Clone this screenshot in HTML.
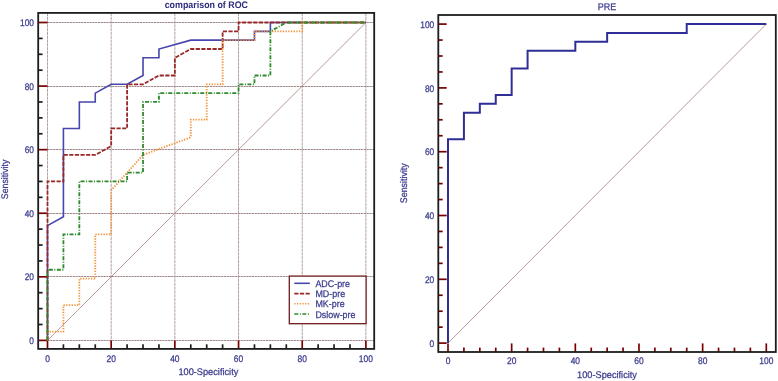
<!DOCTYPE html>
<html><head><meta charset="utf-8"><style>
html,body{margin:0;padding:0;background:#fff;}
body{width:778px;height:381px;overflow:hidden;}
svg{display:block;will-change:transform;}
.t{font-family:"Liberation Sans",sans-serif;font-size:9.6px;text-rendering:geometricPrecision;fill:#3a3a8e;stroke:#3a3a8e;stroke-width:0.25px;}
.tl{font-family:"Liberation Sans",sans-serif;font-size:9.2px;fill:#3a3a8e;}
.tb{font-family:"Liberation Sans",sans-serif;font-size:9.6px;text-rendering:geometricPrecision;font-weight:bold;fill:#2b2b7c;}
</style></head><body>
<svg width="778" height="381" viewBox="0 0 778 381">
<rect width="778" height="381" fill="#fff"/>
<line x1="47.50" y1="12.90" x2="47.50" y2="340.40" stroke="#b4a2a2" stroke-width="1" stroke-dasharray="3.2 0.6"/>
<line x1="47.50" y1="340.50" x2="374.20" y2="340.50" stroke="#a08686" stroke-width="1" stroke-dasharray="2.2 0.6"/>
<line x1="111.18" y1="12.90" x2="111.18" y2="340.40" stroke="#b4a2a2" stroke-width="1" stroke-dasharray="3.2 0.6"/>
<line x1="47.50" y1="276.50" x2="374.20" y2="276.50" stroke="#a08686" stroke-width="1" stroke-dasharray="2.2 0.6"/>
<line x1="174.86" y1="12.90" x2="174.86" y2="340.40" stroke="#b4a2a2" stroke-width="1" stroke-dasharray="3.2 0.6"/>
<line x1="47.50" y1="213.50" x2="374.20" y2="213.50" stroke="#a08686" stroke-width="1" stroke-dasharray="2.2 0.6"/>
<line x1="238.54" y1="12.90" x2="238.54" y2="340.40" stroke="#b4a2a2" stroke-width="1" stroke-dasharray="3.2 0.6"/>
<line x1="47.50" y1="149.50" x2="374.20" y2="149.50" stroke="#a08686" stroke-width="1" stroke-dasharray="2.2 0.6"/>
<line x1="302.22" y1="12.90" x2="302.22" y2="340.40" stroke="#b4a2a2" stroke-width="1" stroke-dasharray="3.2 0.6"/>
<line x1="47.50" y1="86.50" x2="374.20" y2="86.50" stroke="#a08686" stroke-width="1" stroke-dasharray="2.2 0.6"/>
<line x1="365.90" y1="12.90" x2="365.90" y2="340.40" stroke="#b4a2a2" stroke-width="1" stroke-dasharray="3.2 0.6"/>
<line x1="47.50" y1="22.50" x2="374.20" y2="22.50" stroke="#a08686" stroke-width="1" stroke-dasharray="2.2 0.6"/>
<line x1="47.50" y1="340.40" x2="365.90" y2="22.50" stroke="#a88080" stroke-width="0.8"/>
<line x1="63.42" y1="348.90" x2="63.42" y2="344.30" stroke="#1c1c1c" stroke-width="1.7"/>
<line x1="38.20" y1="324.50" x2="42.60" y2="324.50" stroke="#1c1c1c" stroke-width="1.7"/>
<line x1="79.34" y1="348.90" x2="79.34" y2="344.30" stroke="#1c1c1c" stroke-width="1.7"/>
<line x1="38.20" y1="308.61" x2="42.60" y2="308.61" stroke="#1c1c1c" stroke-width="1.7"/>
<line x1="95.26" y1="348.90" x2="95.26" y2="344.30" stroke="#1c1c1c" stroke-width="1.7"/>
<line x1="38.20" y1="292.71" x2="42.60" y2="292.71" stroke="#1c1c1c" stroke-width="1.7"/>
<line x1="127.10" y1="348.90" x2="127.10" y2="344.30" stroke="#1c1c1c" stroke-width="1.7"/>
<line x1="38.20" y1="260.92" x2="42.60" y2="260.92" stroke="#1c1c1c" stroke-width="1.7"/>
<line x1="143.02" y1="348.90" x2="143.02" y2="344.30" stroke="#1c1c1c" stroke-width="1.7"/>
<line x1="38.20" y1="245.03" x2="42.60" y2="245.03" stroke="#1c1c1c" stroke-width="1.7"/>
<line x1="158.94" y1="348.90" x2="158.94" y2="344.30" stroke="#1c1c1c" stroke-width="1.7"/>
<line x1="38.20" y1="229.13" x2="42.60" y2="229.13" stroke="#1c1c1c" stroke-width="1.7"/>
<line x1="190.78" y1="348.90" x2="190.78" y2="344.30" stroke="#1c1c1c" stroke-width="1.7"/>
<line x1="38.20" y1="197.34" x2="42.60" y2="197.34" stroke="#1c1c1c" stroke-width="1.7"/>
<line x1="206.70" y1="348.90" x2="206.70" y2="344.30" stroke="#1c1c1c" stroke-width="1.7"/>
<line x1="38.20" y1="181.45" x2="42.60" y2="181.45" stroke="#1c1c1c" stroke-width="1.7"/>
<line x1="222.62" y1="348.90" x2="222.62" y2="344.30" stroke="#1c1c1c" stroke-width="1.7"/>
<line x1="38.20" y1="165.55" x2="42.60" y2="165.55" stroke="#1c1c1c" stroke-width="1.7"/>
<line x1="254.46" y1="348.90" x2="254.46" y2="344.30" stroke="#1c1c1c" stroke-width="1.7"/>
<line x1="38.20" y1="133.76" x2="42.60" y2="133.76" stroke="#1c1c1c" stroke-width="1.7"/>
<line x1="270.38" y1="348.90" x2="270.38" y2="344.30" stroke="#1c1c1c" stroke-width="1.7"/>
<line x1="38.20" y1="117.87" x2="42.60" y2="117.87" stroke="#1c1c1c" stroke-width="1.7"/>
<line x1="286.30" y1="348.90" x2="286.30" y2="344.30" stroke="#1c1c1c" stroke-width="1.7"/>
<line x1="38.20" y1="101.97" x2="42.60" y2="101.97" stroke="#1c1c1c" stroke-width="1.7"/>
<line x1="318.14" y1="348.90" x2="318.14" y2="344.30" stroke="#1c1c1c" stroke-width="1.7"/>
<line x1="38.20" y1="70.19" x2="42.60" y2="70.19" stroke="#1c1c1c" stroke-width="1.7"/>
<line x1="334.06" y1="348.90" x2="334.06" y2="344.30" stroke="#1c1c1c" stroke-width="1.7"/>
<line x1="38.20" y1="54.29" x2="42.60" y2="54.29" stroke="#1c1c1c" stroke-width="1.7"/>
<line x1="349.98" y1="348.90" x2="349.98" y2="344.30" stroke="#1c1c1c" stroke-width="1.7"/>
<line x1="38.20" y1="38.40" x2="42.60" y2="38.40" stroke="#1c1c1c" stroke-width="1.7"/>
<line x1="47.50" y1="348.90" x2="47.50" y2="340.40" stroke="#7a0000" stroke-width="1.7"/>
<line x1="38.20" y1="340.40" x2="47.50" y2="340.40" stroke="#7a0000" stroke-width="1.7"/>
<line x1="111.18" y1="348.90" x2="111.18" y2="340.40" stroke="#7a0000" stroke-width="1.7"/>
<line x1="38.20" y1="276.82" x2="47.50" y2="276.82" stroke="#7a0000" stroke-width="1.7"/>
<line x1="174.86" y1="348.90" x2="174.86" y2="340.40" stroke="#7a0000" stroke-width="1.7"/>
<line x1="38.20" y1="213.24" x2="47.50" y2="213.24" stroke="#7a0000" stroke-width="1.7"/>
<line x1="238.54" y1="348.90" x2="238.54" y2="340.40" stroke="#7a0000" stroke-width="1.7"/>
<line x1="38.20" y1="149.66" x2="47.50" y2="149.66" stroke="#7a0000" stroke-width="1.7"/>
<line x1="302.22" y1="348.90" x2="302.22" y2="340.40" stroke="#7a0000" stroke-width="1.7"/>
<line x1="38.20" y1="86.08" x2="47.50" y2="86.08" stroke="#7a0000" stroke-width="1.7"/>
<line x1="365.90" y1="348.90" x2="365.90" y2="340.40" stroke="#7a0000" stroke-width="1.7"/>
<line x1="38.20" y1="22.50" x2="47.50" y2="22.50" stroke="#7a0000" stroke-width="1.7"/>
<polyline points="47.50,340.40 47.50,225.60 63.42,216.77 63.42,128.47 79.34,128.47 79.34,101.97 95.26,101.97 95.26,93.14 111.18,84.31 127.10,84.31 143.02,75.48 143.02,57.82 158.94,57.82 158.94,48.99 190.78,40.16 254.46,40.16 254.46,31.33 270.38,31.33 270.38,22.50 365.90,22.50" fill="none" stroke="#4646ac" stroke-width="1.6"/>
<polyline points="47.50,340.40 47.50,181.45 63.42,181.45 63.42,154.96 95.26,154.96 111.18,146.13 111.18,128.47 127.10,128.47 127.10,84.31 143.02,84.31 158.94,75.48 174.86,75.48 174.86,57.82 190.78,48.99 222.62,48.99 222.62,31.33 238.54,31.33 238.54,22.50 365.90,22.50" fill="none" stroke="#982828" stroke-width="1.8" stroke-dasharray="4.2 1.4"/>
<polyline points="47.50,340.40 47.50,331.57 63.42,331.57 63.42,305.08 79.34,305.08 79.34,278.59 95.26,278.59 95.26,234.43 111.18,234.43 111.18,190.28 143.02,154.96 190.78,137.30 190.78,119.64 206.70,119.64 206.70,84.31 222.62,84.31 222.62,40.16 254.46,40.16 254.46,31.33 302.22,31.33 302.22,22.50 365.90,22.50" fill="none" stroke="#f39237" stroke-width="1.8" stroke-dasharray="1.3 1.4"/>
<polyline points="47.50,340.40 47.50,269.76 63.42,269.76 63.42,234.43 79.34,234.43 79.34,181.45 127.10,181.45 127.10,172.62 143.02,172.62 143.02,101.97 158.94,101.97 158.94,93.14 238.54,93.14 238.54,84.31 254.46,84.31 254.46,75.48 270.38,75.48 270.38,31.33 286.30,22.50 365.90,22.50" fill="none" stroke="#2c8a2c" stroke-width="1.8" stroke-dasharray="4 1.5 1 1.5"/>
<rect x="38.20" y="12.90" width="336.00" height="336.00" fill="none" stroke="#1c1c1c" stroke-width="1.80"/>
<rect x="289.3" y="276.1" width="76.8" height="47.6" fill="#ffffff" stroke="#6e1c1c" stroke-width="1.3"/>
<line x1="294.3" y1="283.30" x2="309.8" y2="283.30" stroke="#4646ac" stroke-width="1.6"/>
<text transform="translate(315.40,286.95) scale(0.928,1)" class="t">ADC-pre</text>
<line x1="294.3" y1="293.60" x2="309.8" y2="293.60" stroke="#982828" stroke-width="1.6" stroke-dasharray="4.2 1.4"/>
<text transform="translate(315.40,297.25) scale(0.928,1)" class="t">MD-pre</text>
<line x1="294.3" y1="303.80" x2="309.8" y2="303.80" stroke="#f39237" stroke-width="1.6" stroke-dasharray="1.3 1.4"/>
<text transform="translate(315.40,307.45) scale(0.928,1)" class="t">MK-pre</text>
<line x1="294.3" y1="314.00" x2="309.8" y2="314.00" stroke="#2c8a2c" stroke-width="1.6" stroke-dasharray="4 1.5 1 1.5"/>
<text transform="translate(315.40,317.65) scale(0.928,1)" class="t">Dslow-pre</text>
<text transform="translate(47.50,361.50) scale(0.880,1)" class="t" text-anchor="middle">0</text>
<text transform="translate(34.00,344.00) scale(0.870,1)" class="t" text-anchor="end">0</text>
<text transform="translate(111.18,361.50) scale(0.880,1)" class="t" text-anchor="middle">20</text>
<text transform="translate(34.00,280.42) scale(0.870,1)" class="t" text-anchor="end">20</text>
<text transform="translate(174.86,361.50) scale(0.880,1)" class="t" text-anchor="middle">40</text>
<text transform="translate(34.00,216.84) scale(0.870,1)" class="t" text-anchor="end">40</text>
<text transform="translate(238.54,361.50) scale(0.880,1)" class="t" text-anchor="middle">60</text>
<text transform="translate(34.00,153.26) scale(0.870,1)" class="t" text-anchor="end">60</text>
<text transform="translate(302.22,361.50) scale(0.880,1)" class="t" text-anchor="middle">80</text>
<text transform="translate(34.00,89.68) scale(0.870,1)" class="t" text-anchor="end">80</text>
<text transform="translate(365.90,361.50) scale(0.880,1)" class="t" text-anchor="middle">100</text>
<text transform="translate(34.00,26.10) scale(0.870,1)" class="t" text-anchor="end">100</text>
<text transform="translate(208.35,374.80) scale(0.960,1)" class="t" text-anchor="middle">100-Specificity</text>
<text transform="translate(8.20,179.40) rotate(-90) scale(0.915,1)" class="t" text-anchor="middle">Sensitivity</text>
<text transform="translate(206.35,7.90) scale(0.925,1)" class="tb" text-anchor="middle">comparison of ROC</text>
<line x1="448.00" y1="343.10" x2="766.30" y2="24.10" stroke="#a88080" stroke-width="0.8"/>
<line x1="463.92" y1="352.00" x2="463.92" y2="347.60" stroke="#7a0000" stroke-width="1.7"/>
<line x1="438.30" y1="327.15" x2="442.70" y2="327.15" stroke="#7a0000" stroke-width="1.7"/>
<line x1="479.83" y1="352.00" x2="479.83" y2="347.60" stroke="#7a0000" stroke-width="1.7"/>
<line x1="438.30" y1="311.20" x2="442.70" y2="311.20" stroke="#7a0000" stroke-width="1.7"/>
<line x1="495.75" y1="352.00" x2="495.75" y2="347.60" stroke="#7a0000" stroke-width="1.7"/>
<line x1="438.30" y1="295.25" x2="442.70" y2="295.25" stroke="#7a0000" stroke-width="1.7"/>
<line x1="527.58" y1="352.00" x2="527.58" y2="347.60" stroke="#7a0000" stroke-width="1.7"/>
<line x1="438.30" y1="263.35" x2="442.70" y2="263.35" stroke="#7a0000" stroke-width="1.7"/>
<line x1="543.49" y1="352.00" x2="543.49" y2="347.60" stroke="#7a0000" stroke-width="1.7"/>
<line x1="438.30" y1="247.40" x2="442.70" y2="247.40" stroke="#7a0000" stroke-width="1.7"/>
<line x1="559.40" y1="352.00" x2="559.40" y2="347.60" stroke="#7a0000" stroke-width="1.7"/>
<line x1="438.30" y1="231.45" x2="442.70" y2="231.45" stroke="#7a0000" stroke-width="1.7"/>
<line x1="591.24" y1="352.00" x2="591.24" y2="347.60" stroke="#7a0000" stroke-width="1.7"/>
<line x1="438.30" y1="199.55" x2="442.70" y2="199.55" stroke="#7a0000" stroke-width="1.7"/>
<line x1="607.15" y1="352.00" x2="607.15" y2="347.60" stroke="#7a0000" stroke-width="1.7"/>
<line x1="438.30" y1="183.60" x2="442.70" y2="183.60" stroke="#7a0000" stroke-width="1.7"/>
<line x1="623.06" y1="352.00" x2="623.06" y2="347.60" stroke="#7a0000" stroke-width="1.7"/>
<line x1="438.30" y1="167.65" x2="442.70" y2="167.65" stroke="#7a0000" stroke-width="1.7"/>
<line x1="654.89" y1="352.00" x2="654.89" y2="347.60" stroke="#7a0000" stroke-width="1.7"/>
<line x1="438.30" y1="135.75" x2="442.70" y2="135.75" stroke="#7a0000" stroke-width="1.7"/>
<line x1="670.81" y1="352.00" x2="670.81" y2="347.60" stroke="#7a0000" stroke-width="1.7"/>
<line x1="438.30" y1="119.80" x2="442.70" y2="119.80" stroke="#7a0000" stroke-width="1.7"/>
<line x1="686.72" y1="352.00" x2="686.72" y2="347.60" stroke="#7a0000" stroke-width="1.7"/>
<line x1="438.30" y1="103.85" x2="442.70" y2="103.85" stroke="#7a0000" stroke-width="1.7"/>
<line x1="718.55" y1="352.00" x2="718.55" y2="347.60" stroke="#7a0000" stroke-width="1.7"/>
<line x1="438.30" y1="71.95" x2="442.70" y2="71.95" stroke="#7a0000" stroke-width="1.7"/>
<line x1="734.47" y1="352.00" x2="734.47" y2="347.60" stroke="#7a0000" stroke-width="1.7"/>
<line x1="438.30" y1="56.00" x2="442.70" y2="56.00" stroke="#7a0000" stroke-width="1.7"/>
<line x1="750.38" y1="352.00" x2="750.38" y2="347.60" stroke="#7a0000" stroke-width="1.7"/>
<line x1="438.30" y1="40.05" x2="442.70" y2="40.05" stroke="#7a0000" stroke-width="1.7"/>
<line x1="448.00" y1="352.00" x2="448.00" y2="343.40" stroke="#7a0000" stroke-width="1.7"/>
<line x1="438.30" y1="343.10" x2="446.70" y2="343.10" stroke="#7a0000" stroke-width="1.7"/>
<line x1="511.66" y1="352.00" x2="511.66" y2="343.40" stroke="#7a0000" stroke-width="1.7"/>
<line x1="438.30" y1="279.30" x2="446.70" y2="279.30" stroke="#7a0000" stroke-width="1.7"/>
<line x1="575.32" y1="352.00" x2="575.32" y2="343.40" stroke="#7a0000" stroke-width="1.7"/>
<line x1="438.30" y1="215.50" x2="446.70" y2="215.50" stroke="#7a0000" stroke-width="1.7"/>
<line x1="638.98" y1="352.00" x2="638.98" y2="343.40" stroke="#7a0000" stroke-width="1.7"/>
<line x1="438.30" y1="151.70" x2="446.70" y2="151.70" stroke="#7a0000" stroke-width="1.7"/>
<line x1="702.64" y1="352.00" x2="702.64" y2="343.40" stroke="#7a0000" stroke-width="1.7"/>
<line x1="438.30" y1="87.90" x2="446.70" y2="87.90" stroke="#7a0000" stroke-width="1.7"/>
<line x1="766.30" y1="352.00" x2="766.30" y2="343.40" stroke="#7a0000" stroke-width="1.7"/>
<line x1="438.30" y1="24.10" x2="446.70" y2="24.10" stroke="#7a0000" stroke-width="1.7"/>
<polyline points="448.00,343.10 448.00,139.29 463.92,139.29 463.92,112.71 479.83,112.71 479.83,103.85 495.75,103.85 495.75,94.99 511.66,94.99 511.66,68.41 527.58,68.41 527.58,50.68 575.32,50.68 575.32,41.82 607.15,41.82 607.15,32.96 686.72,32.96 686.72,24.10 766.30,24.10" fill="none" stroke="#2e2e96" stroke-width="2.0"/>
<rect x="438.30" y="15.00" width="337.50" height="337.00" fill="none" stroke="#1c1c1c" stroke-width="1.80"/>
<text transform="translate(448.00,364.40) scale(0.880,1)" class="t" text-anchor="middle">0</text>
<text transform="translate(434.20,346.70) scale(0.870,1)" class="t" text-anchor="end">0</text>
<text transform="translate(511.66,364.40) scale(0.880,1)" class="t" text-anchor="middle">20</text>
<text transform="translate(434.20,282.90) scale(0.870,1)" class="t" text-anchor="end">20</text>
<text transform="translate(575.32,364.40) scale(0.880,1)" class="t" text-anchor="middle">40</text>
<text transform="translate(434.20,219.10) scale(0.870,1)" class="t" text-anchor="end">40</text>
<text transform="translate(638.98,364.40) scale(0.880,1)" class="t" text-anchor="middle">60</text>
<text transform="translate(434.20,155.30) scale(0.870,1)" class="t" text-anchor="end">60</text>
<text transform="translate(702.64,364.40) scale(0.880,1)" class="t" text-anchor="middle">80</text>
<text transform="translate(434.20,91.50) scale(0.870,1)" class="t" text-anchor="end">80</text>
<text transform="translate(766.30,364.40) scale(0.880,1)" class="t" text-anchor="middle">100</text>
<text transform="translate(434.20,27.70) scale(0.870,1)" class="t" text-anchor="end">100</text>
<text transform="translate(607.00,377.85) scale(0.960,1)" class="t" text-anchor="middle">100-Specificity</text>
<text transform="translate(407.30,183.20) rotate(-90) scale(0.925,1)" class="t" text-anchor="middle">Sensitivity</text>
<text transform="translate(607.00,9.90) scale(0.940,1)" class="t" text-anchor="middle">PRE</text>
</svg>
</body></html>
